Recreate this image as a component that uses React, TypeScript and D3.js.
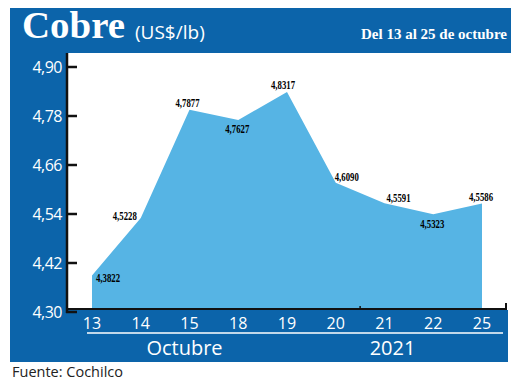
import React from "react";
import * as d3 from "d3";

const days = ["13", "14", "15", "18", "19", "20", "21", "22", "25"];
const prices = [4.3822, 4.5228, 4.7877, 4.7627, 4.8317, 4.609, 4.5591, 4.5323, 4.5586];
const yTicks = [4.3, 4.42, 4.54, 4.66, 4.78, 4.9];
const periodLabels = ["Octubre", "2021"];
const titleText = "Cobre";
const unitText = "(US$/lb)";
const rangeText = "Del 13 al 25 de octubre";
const sourceText = "Fuente: Cochilco";

// label placement (layout only)
const labelOffsets: [number, number][] = [
  [16, 2], [-16, -3], [-2, -7], [-1, 8], [-4, -7], [11, -6], [14, -6], [-1, 9], [-1, -7],
];

const W = 520;
const H = 384;
const PANEL = "#0c64aa";
const AREA = "#56b4e4";

export default function App() {
  const x = d3.scalePoint<string>().domain(days).range([92, 482]);
  const y = d3.scaleLinear().domain([4.3, 4.9]).range([309, 64]);
  const pts = days.map((d, i) => ({ d, v: prices[i] }));
  const area = d3
    .area<{ d: string; v: number }>()
    .x((p) => x(p.d) as number)
    .y0(y(4.3))
    .y1((p) => y(p.v))(pts) as string;
  const fmt = (v: number) => d3.format(".4f")(v).replace(".", ",");
  const fmtTick = (v: number) => d3.format(".2f")(v).replace(".", ",");
  const axisY = y(4.3);
  const sepX = ((x("20") as number) + (x("21") as number)) / 2;
  const sans = "'Open Sans', 'Noto Sans', sans-serif";

  return (
    <svg
      width={W}
      height={H}
      viewBox={`0 0 ${W} ${H}`}
      style={{ position: "absolute", left: 0, top: 0, background: "#fff" }}
    >
      {/* blue frame */}
      <rect x={10} y={8} width={501} height={45} fill={PANEL} />
      <rect x={10} y={8} width={56} height={354} fill={PANEL} />
      <rect x={10} y={310} width={498} height={52} fill={PANEL} />

      {/* header */}
      <text
        x={22}
        y={38}
        fill="#fff"
        fontFamily="'Liberation Serif', serif"
        fontWeight="bold"
        fontSize={37}
        textLength={103}
        lengthAdjust="spacingAndGlyphs"
      >
        {titleText}
      </text>
      <text x={135} y={39} fill="#fff" fontFamily={sans} fontSize={19}>
        {unitText}
      </text>
      <text
        x={361}
        y={39}
        fill="#fff"
        fontFamily="'Liberation Serif', serif"
        fontWeight="bold"
        fontSize={15}
      >
        {rangeText}
      </text>

      {/* area */}
      <path d={area} fill={AREA} />

      {/* value labels */}
      {pts.map((p, i) => (
        <text
          key={p.d}
          x={(x(p.d) as number) + labelOffsets[i][0]}
          y={y(p.v) + labelOffsets[i][1]}
          textAnchor="middle"
          dominantBaseline="central"
          fontFamily="'Liberation Serif', serif"
          fontWeight="bold"
          fontSize={13}
          textLength={24}
          lengthAdjust="spacingAndGlyphs"
          fill="#000"
        >
          {fmt(p.v)}
        </text>
      ))}

      {/* x axis line */}
      <line x1={66} x2={507} y1={axisY} y2={axisY} stroke="#111" strokeWidth={2} />
      <line x1={506} x2={506} y1={axisY} y2={axisY - 6} stroke="#111" strokeWidth={2} />
      <line x1={sepX} x2={sepX} y1={axisY} y2={axisY - 3} stroke="#111" strokeWidth={1.5} />

      {/* y axis */}
      <g transform="translate(0,3)">
        <line x1={67} x2={67} y1={50} y2={y(4.3) + 1} stroke="#111" strokeWidth={2.5} />
        {yTicks.map((t) => (
          <g key={t}>
            <line x1={66} x2={77} y1={y(t)} y2={y(t)} stroke="#111" strokeWidth={2.5} />
            <text
              x={62}
              y={y(t)}
              textAnchor="end"
              dominantBaseline="central"
              fill="#fff"
              fontFamily={sans}
              fontSize={16}
              letterSpacing={-0.5}
            >
              {fmtTick(t)}
            </text>
          </g>
        ))}
      </g>

      {/* x tick labels */}
      {days.map((d) => (
        <text
          key={d}
          x={x(d) as number}
          y={329}
          textAnchor="middle"
          fill="#fff"
          fontFamily={sans}
          fontSize={16}
        >
          {d}
        </text>
      ))}
      <line x1={87} x2={503} y1={333} y2={333} stroke="#fff" strokeWidth={1.5} />
      <text x={(x("15") as number) - 5} y={355} textAnchor="middle" fill="#fff" fontFamily={sans} fontSize={20}>
        {periodLabels[0]}
      </text>
      <text x={(x("21") as number) + 8} y={355} textAnchor="middle" fill="#fff" fontFamily={sans} fontSize={20}>
        {periodLabels[1]}
      </text>

      {/* source */}
      <text x={12} y={377} fill="#222" fontFamily={sans} fontSize={14.5}>
        {sourceText}
      </text>
    </svg>
  );
}
